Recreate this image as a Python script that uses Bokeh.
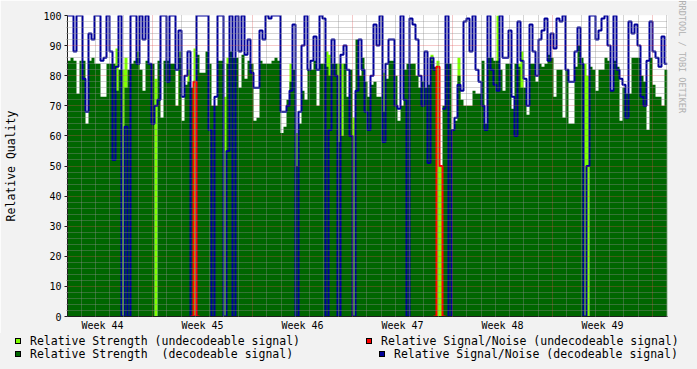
import numpy as np
from bokeh.plotting import figure
from bokeh.layouts import column
from bokeh.models import Range1d, FixedTicker, Title, Div
from bokeh.embed import file_html
from bokeh.resources import INLINE

_ = float("nan")  # unknown sample

# time axis: days since Monday of week 44, one consolidated sample every 0.21 day
START_DAY = 1.05
STEP_DAYS = 0.21

strength_dec = [
    85, 86, 85, 74, 85, 85, 64, 85, 86, 84, 84, 73, 73, 84, 84, 84, 75, 82, 0, 76,
    82, 84, 85, 86, 82, 75, 85, 84, 84, 0, 85, 66, 85, 85, 84, 84, 70, 86, 65, 77,
    78, 76, 0, 87, 81, 81, 88, 84, 70, 70, 85, 85, 0, 84, 88, 86, 86, 76, 87, 79,
    85, 84, 65, 66, 85, 84, 84, 84, 85, 86, 85, 61, 63, 72, 78, 82, 50, 64, 75, 72,
    82, 82, 85, 70, 84, 84, 83, 80, 84, 84, 58, 60, 84, 73, 82, 0, 92, 80, 86, 78,
    73, 77, 78, 73, 73, 68, 79, 85, 85, 80, 65, 70, 82, 84, 84, 84, 80, 76, 78, 76,
    77, 85, 83, 0, 0, 70, 84, 84, 62, 65, 80, 72, 70, 70, 70, 75, 74, 74, 85, 64,
    86, 86, 85, 85, 82, 75, 84, 84, 69, 84, 83, 76, 76, 67, 84, 84, 78, 84, 83, 84,
    87, 86, 73, 82, 82, 66, 82, 64, 64, 83, 90, 86, 0, 0, 83, 82, 75, 82, 82, 86,
    85, 75, 85, 83, 65, 76, 74, 74, 86, 86, 86, 80, 78, 62, 86, 77, 73, 73, 70, 82,
]

strength_undec = [
    0, 0, 0, 0, 0, 0, 0, 0, 0, 0, 0, 0, 0, 0, 0, 0, 89, 0, 82, 86,
    0, 0, 0, 88, 0, 0, 0, 0, 0, 79, 0, 0, 0, 0, 0, 0, 0, 88, 0, 0,
    82, 0, 89, 0, 0, 0, 0, 0, 0, 0, 0, 0, 73, 86, 0, 0, 0, 0, 0, 0,
    0, 0, 0, 0, 0, 0, 0, 0, 0, 0, 0, 0, 0, 0, 84, 0, 61, 0, 0, 0,
    0, 0, 0, 0, 0, 0, 88, 87, 0, 0, 84, 84, 0, 0, 0, 66, 0, 0, 0, 0,
    0, 0, 0, 0, 0, 81, 0, 0, 0, 0, 0, 0, 0, 0, 0, 84, 0, 0, 0, 0,
    0, 87, 0, 85, 50, 0, 84, 0, 0, 0, 86, 0, 0, 0, 0, 0, 0, 0, 0, 0,
    0, 0, 0, 100, 0, 0, 0, 0, 0, 0, 84, 88, 0, 0, 0, 0, 0, 0, 0, 0,
    0, 0, 0, 0, 0, 0, 0, 0, 0, 0, 0, 0, 84, 80, 0, 0, 0, 0, 0, 0,
    0, 0, 0, 0, 0, 0, 0, 0, 0, 0, 0, 0, 0, 0, 0, 0, 0, 0, 0, 0,
]

snr_dec = [
    100, 100, 88, 100, 100, 79, 68, 94, 92, 100, 100, 85, 86, 100, 88, 52, 83, 100, 0, 63,
    0, 100, 100, 84, 100, 92, 100, 84, 64, 70, 72, 100, 100, 78, 100, 100, 82, 95, 73, 80,
    88, 0, 0, 100, 100, 100, 100, 62, 0, 73, 100, 100, 0, 55, 100, 0, 100, 88, 100, 87,
    92, 81, 76, 76, 95, 92, 100, 99, 100, 100, 100, 68, 68, 70, 75, 97, 0, 68, 90, 100,
    82, 85, 93, 82, 100, 99, 0, 62, 92, 80, 0, 87, 90, 82, 60, 0, 75, 92, 82, 68,
    62, 80, 97, 90, 100, 58, 84, 92, 92, 70, 69, 100, 72, 0, 99, 97, 92, 80, 70, 88,
    51, 86, 82, _, _, 69, 100, 0, 62, 66, 77, 75, 98, 99, 88, 100, 82, 78, 70, 62,
    100, 82, 77, 75, 100, 86, 86, 95, 73, 60, 98, 85, 79, 70, 97, 88, 80, 92, 95, 99,
    85, 94, 89, 99, 98, 100, 82, 78, 78, 88, 96, 84, 0, 50, 100, 100, 92, 95, 99, 100,
    90, 75, 100, 82, 79, 77, 66, 98, 94, 97, 90, 73, 70, 85, 98, 88, 86, 83, 93, 84,
]

snr_undec = [
    _, _, _, _, _, _, _, _, _, _, _, _, _, _, _, _, _, _, _, _,
    _, _, _, _, _, _, _, _, _, _, _, _, _, _, _, _, _, _, _, _,
    _, 0, 78, 0, _, _, _, _, _, _, _, _, _, _, _, _, _, _, _, _,
    _, _, _, _, _, _, _, _, _, _, _, _, _, _, _, _, _, _, _, _,
    _, _, _, _, _, _, _, _, _, _, _, _, _, _, _, _, _, _, _, _,
    _, _, _, _, _, _, _, _, _, _, _, _, _, _, _, _, _, _, _, _,
    _, _, 0, 83, 50, 0, _, _, _, _, _, _, _, _, _, _, _, _, _, _,
    _, _, _, _, _, _, _, _, _, _, _, _, _, _, _, _, _, _, _, _,
    _, _, _, _, _, _, _, _, _, _, _, _, _, _, _, _, _, _, _, _,
    _, _, _, _, _, _, _, _, _, _, _, _, _, _, _, _, _, _, _, _,
]

week_centers = [3.5, 10.5, 17.5, 24.5, 31.5, 38.5]
week_labels = ["Week 44", "Week 45", "Week 46", "Week 47", "Week 48", "Week 49"]
week_bounds = [7, 14, 21, 28, 35, 42]
day_lines = [d for d in range(2, 44) if d % 7]
y_major = list(range(0, 101, 10))
y_minor = [v for v in range(0, 101, 2) if v % 10]

legend_labels = [
    "Relative Strength (undecodeable signal)",
    "Relative Signal/Noise (undecodeable signal)",
    "Relative Strength  (decodeable signal)",
    "Relative Signal/Noise (decodeable signal)",
]

C_LGREEN = "#7FFF00"
C_DGREEN = "#006600"
C_RED = "#FF0000"
C_BLUE = "#000099"
C_GRID = "#8F8F8F"
C_MGRID = "#DE4F4F"
C_AXIS = "#1F1F1F"
C_BACK = "#F2F2F2"
MONO = "DejaVu Sans Mono"

n = len(strength_dec)
edges = START_DAY + STEP_DAYS * np.arange(n + 1)
x_end = edges[-1]


def stepped(vals):
    v = np.asarray(vals, dtype=float)
    xs = np.repeat(edges, 2)[1:-1]
    ys = np.repeat(v, 2)
    return xs, ys


p = figure(frame_width=600, frame_height=301, output_backend="svg", title=None,
           toolbar_location=None, x_range=Range1d(START_DAY, x_end),
           y_range=Range1d(0, 100))
p.min_border_left = 67
p.min_border_right = 30
p.min_border_top = 15
p.min_border_bottom = 16
p.background_fill_color = "#FFFFFF"
p.border_fill_color = C_BACK
p.outline_line_color = None

xs, ys = stepped(strength_undec)
p.varea(x=xs, y1=0, y2=ys, fill_color=C_LGREEN)
xs, ys = stepped(strength_dec)
p.varea(x=xs, y1=0, y2=ys, fill_color=C_DGREEN)
xs, ys = stepped(snr_dec)
p.line(x=xs, y=ys, line_color=C_BLUE, line_width=2)
xs, ys = stepped(snr_undec)
p.line(x=xs, y=ys, line_color=C_RED, line_width=2)

# grids drawn over the data, as rrdtool does
p.xgrid.ticker = FixedTicker(ticks=week_bounds, minor_ticks=day_lines)
p.ygrid.ticker = FixedTicker(ticks=y_major, minor_ticks=y_minor)
for g in (p.xgrid[0], p.ygrid[0]):
    g.level = "overlay"
    g.grid_line_color = C_MGRID
    g.grid_line_alpha = 0.6
    g.grid_line_dash = "1 1"
    g.minor_grid_line_color = C_GRID
    g.minor_grid_line_alpha = 0.75
    g.minor_grid_line_dash = "1 1"

xa = p.xaxis[0]
xa.ticker = FixedTicker(ticks=week_centers)
xa.major_label_overrides = {c: t for c, t in zip(week_centers, week_labels)}
xa.major_tick_line_color = None
xa.minor_tick_line_color = None
xa.major_tick_out = 0
xa.major_tick_in = 0
xa.major_label_standoff = 3
xa.axis_line_color = C_AXIS

ya = p.yaxis[0]
ya.ticker = FixedTicker(ticks=y_major, minor_ticks=y_minor)
ya.major_tick_out = 3
ya.major_tick_in = 0
ya.minor_tick_out = 1
ya.minor_tick_in = 0
ya.major_label_standoff = 3
ya.minor_tick_line_color = C_GRID
ya.major_tick_line_color = C_AXIS
ya.axis_line_color = C_AXIS
ya.axis_label = "Relative Quality"
ya.axis_label_standoff = 22
ya.axis_label_text_font = MONO
ya.axis_label_text_font_size = "11.5px"
ya.axis_label_text_font_style = "normal"
ya.axis_label_text_color = "#000000"

for ax in (xa, ya):
    ax.major_label_text_font = MONO
    ax.major_label_text_font_size = "10px"
    ax.major_label_text_color = "#000000"

p.add_layout(Title(text="RRDTOOL / TOBI OETIKER", align="left", offset=-15,
                   standoff=19, text_font=MONO, text_font_size="8.5px",
                   text_font_style="normal", text_color="#B0B0B0"), "right")

# ---- legend strip below the graph (rrdtool style: boxed swatch + label) ----
swatch_colors = [C_LGREEN, C_RED, C_DGREEN, C_BLUE]
swatch_pos = [(15, 5), (366, 5), (15, 18), (379, 18)]   # layout (px) of each entry


def entry(label, color, left, top):
    box = ("<span style='position:absolute;left:%dpx;top:%dpx;width:6px;height:6px;"
           "border:1px solid #000;background:%s'></span>" % (left, top, color))
    txt = ("<span style='position:absolute;left:%dpx;top:%dpx;line-height:13px;"
           "white-space:pre'>%s</span>" % (left + 15, top - 3, label))
    return box + txt


html = ("<div style=\"position:relative;width:697px;height:37px;background:%s;"
        "font-family:'DejaVu Sans Mono',monospace;font-size:11.5px;color:#000\">"
        % C_BACK)
for lab, col, (lx, ty) in zip(legend_labels, swatch_colors, swatch_pos):
    html += entry(lab, col, lx, ty)
html += "</div>"

legend_strip = Div(text=html, width=697, height=37,
                   styles={"background-color": C_BACK, "margin": "0", "padding": "0"})

layout = column(p, legend_strip, spacing=0)
open("out.html", "w").write(file_html(layout, INLINE))
